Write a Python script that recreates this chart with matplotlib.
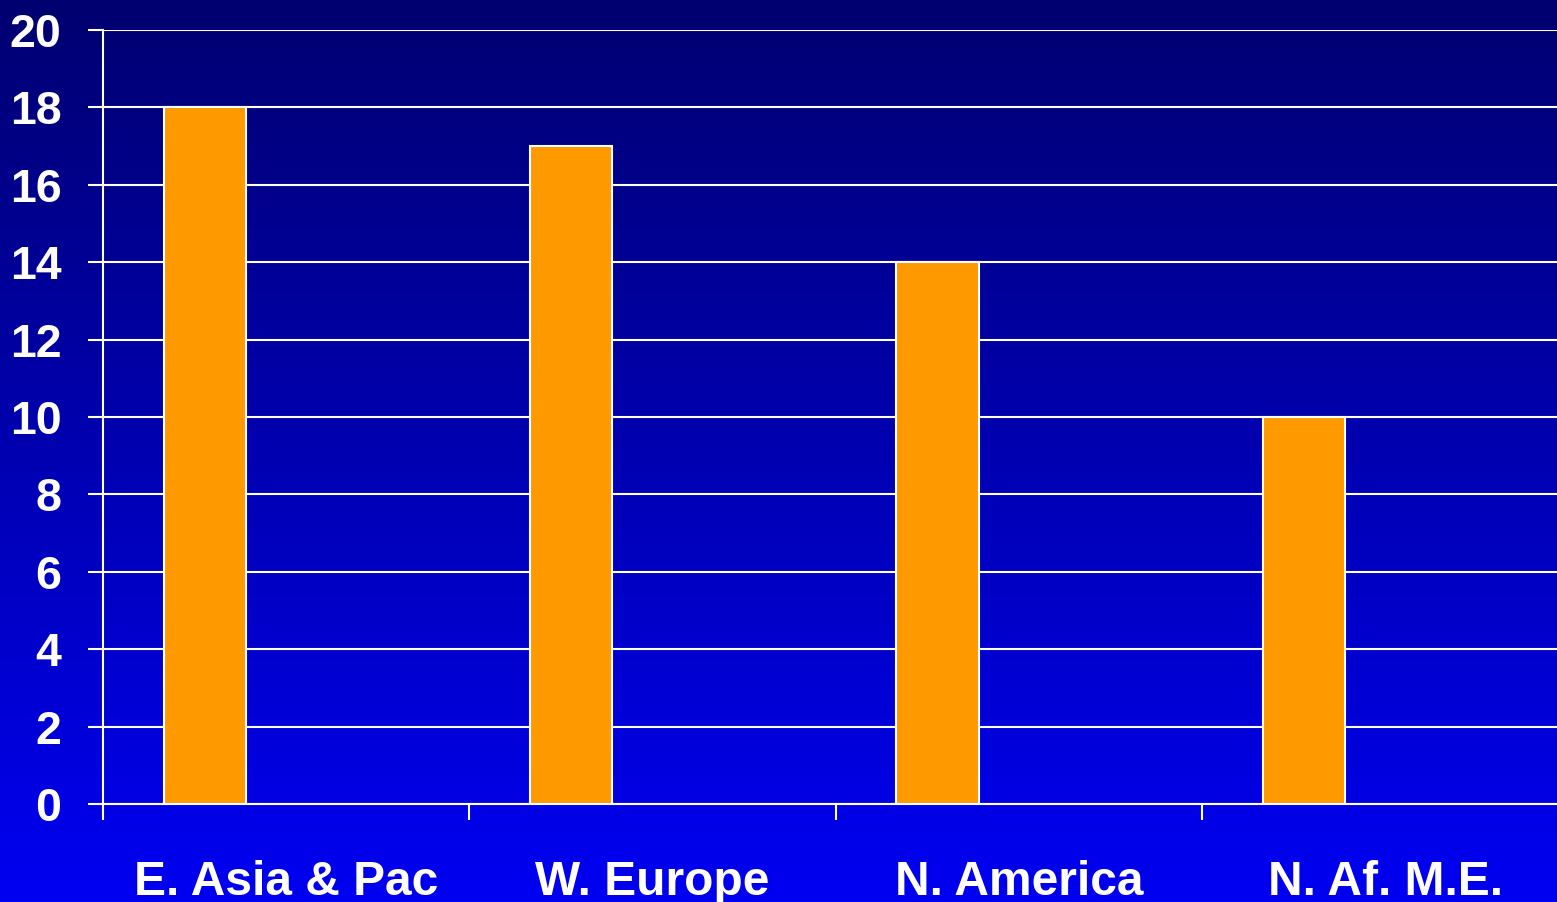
import matplotlib
matplotlib.use('Agg')
import matplotlib.pyplot as plt
import numpy as np
from matplotlib.colors import LinearSegmentedColormap

regions = ['E. Asia & Pac', 'W. Europe', 'N. America', 'N. Af. M.E.']
values = [18, 17, 14, 10]
yticks = [0, 2, 4, 6, 8, 10, 12, 14, 16, 18, 20]

plt.rcParams['font.family'] = ['Liberation Sans', 'DejaVu Sans']

fig = plt.figure(figsize=(15.57, 9.02), dpi=100)

# gradient background over the whole figure
bg = fig.add_axes([0, 0, 1, 1], zorder=0)
cmap = LinearSegmentedColormap.from_list('bg', ['#000070', '#0000F2'])
bg.imshow(np.linspace(0, 1, 256).reshape(-1, 1), aspect='auto', cmap=cmap,
          extent=[0, 1, 0, 1], origin='upper')
bg.axis('off')

ax = fig.add_axes([103 / 1557, 1 - 804 / 902, 1 - 103 / 1557, (804 - 30) / 902], zorder=1)
ax.patch.set_alpha(0)

x = np.arange(len(regions))
ax.bar(x - 0.222, values, width=0.224, color='#FF9900', edgecolor='white',
       linewidth=1.5, zorder=3)

ax.set_ylim(0, 20)
ax.set_xlim(-0.5, 2.5 + 355 / 366.3)
ax.set_yticks(yticks)
ax.set_yticklabels([str(v) for v in yticks])
ax.yaxis.grid(True, color='white', linewidth=1.5, zorder=1)
ax.set_axisbelow(True)

ax.set_xticks(x)
ax.set_xticklabels(regions)
ax.set_xticks([-0.5, 0.5, 1.5, 2.5], minor=True)
ax.tick_params(axis='x', which='major', length=0, pad=40, labelsize=34.5,
               labelcolor='white')
ax.tick_params(axis='x', which='minor', length=11.5, width=1.5, color='white',
               direction='out')
ax.tick_params(axis='y', length=11, width=1.5, color='white', pad=19,
               labelsize=33.5, labelcolor='white')
for lab in ax.get_xticklabels() + ax.get_yticklabels():
    lab.set_fontweight('bold')

for side in ['top', 'right']:
    ax.spines[side].set_visible(False)
for side in ['left', 'bottom']:
    ax.spines[side].set_color('white')
    ax.spines[side].set_linewidth(1.5)

fig.savefig('out.png', dpi=100)
